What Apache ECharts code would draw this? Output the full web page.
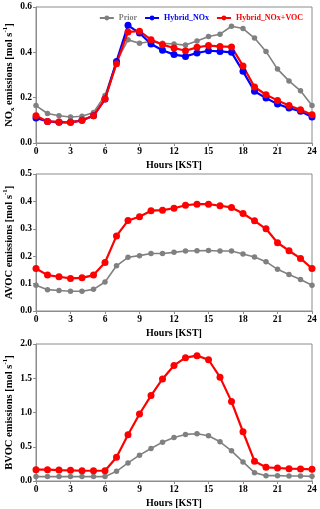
<!DOCTYPE html>
<html><head><meta charset="utf-8">
<script src="https://cdn.jsdelivr.net/npm/echarts@6/dist/echarts.min.js"></script>
<style>html,body{margin:0;padding:0;background:#fff}#c{width:320px;height:509px}</style>
</head><body><div id="c"></div>
<script>
var hours = [0,1,2,3,4,5,6,7,8,9,10,11,12,13,14,15,16,17,18,19,20,21,22,23,24];
var noxPrior = [0.165,0.13,0.12,0.115,0.118,0.135,0.21,0.36,0.455,0.44,0.448,0.44,0.437,0.432,0.45,0.47,0.48,0.515,0.505,0.463,0.404,0.326,0.274,0.23,0.165];
var noxHybNOx = [0.11,0.095,0.091,0.091,0.1,0.12,0.194,0.36,0.519,0.485,0.437,0.409,0.39,0.382,0.397,0.407,0.404,0.4,0.316,0.228,0.198,0.172,0.154,0.14,0.115];
var noxHybNOxVOC = [0.12,0.095,0.093,0.091,0.1,0.12,0.194,0.35,0.49,0.493,0.456,0.434,0.419,0.407,0.422,0.43,0.426,0.424,0.34,0.247,0.213,0.188,0.165,0.147,0.125];
var avocPrior = [0.094,0.078,0.075,0.072,0.072,0.079,0.106,0.165,0.196,0.202,0.21,0.21,0.214,0.219,0.22,0.221,0.219,0.219,0.208,0.197,0.18,0.152,0.133,0.115,0.094];
var avocHyb = [0.155,0.131,0.125,0.119,0.121,0.131,0.177,0.274,0.33,0.344,0.366,0.368,0.375,0.386,0.39,0.39,0.384,0.378,0.356,0.329,0.3,0.249,0.22,0.192,0.155];
var bvocPrior = [0.064,0.064,0.064,0.064,0.064,0.064,0.064,0.142,0.264,0.377,0.474,0.567,0.636,0.68,0.69,0.66,0.572,0.44,0.279,0.122,0.078,0.078,0.073,0.073,0.068];
var bvocHyb = [0.166,0.166,0.16,0.156,0.15,0.15,0.15,0.347,0.675,0.978,1.247,1.49,1.687,1.8,1.83,1.77,1.516,1.159,0.719,0.289,0.2,0.19,0.18,0.176,0.171];
var seriesNames = ['Prior','Hybrid_NOx','Hybrid_NOx+VOC'];
var xName = 'Hours [KST]';

var FF = '"Liberation Serif", "DejaVu Serif", serif';
var GRAY = '#808080', BLUE = '#0000ff', RED = '#ff0000', FRAME = '#8c8c8c';
function pairs(v){ return hours.map(function(h,i){ return [h, v[i]]; }); }

var grids = [
  {left:36, right:8, top:7, height:136},
  {left:36, right:8, top:174, height:137},
  {left:36, right:8, top:344, height:137}
];
grids.forEach(function(g){ g.show = true; g.borderColor = FRAME; g.borderWidth = 1; g.backgroundColor = 'transparent'; g.containLabel = false; g.outerBoundsMode = 'none'; });

function xAx(i){
  return {gridIndex:i, type:'value', min:0, max:24, interval:3,
    name:xName, nameLocation:'middle', nameGap:17, nameMoveOverlap:false,
    nameTextStyle:{fontFamily:FF, fontWeight:'bold', fontSize:10, color:'#000'},
    axisLine:{show:true, lineStyle:{color:FRAME}},
    axisTick:{show:true, length:3, lineStyle:{color:FRAME}},
    axisLabel:{fontFamily:FF, fontWeight:'bold', fontSize:9.5, color:'#000', margin:4},
    splitLine:{show:false}};
}
function yAx(i, max, interval, prefixRich){
  return {gridIndex:i, type:'value', min:0, max:max, interval:interval,
    name:prefixRich, nameLocation:'middle', nameGap:20, nameMoveOverlap:false,
    nameTextStyle:{fontFamily:FF, fontWeight:'bold', fontSize:10, color:'#000',
      rich:{
        a:{fontFamily:FF, fontWeight:'bold', fontSize:10.5, color:'#000', lineHeight:14, verticalAlign:'middle'},
        sub:{fontFamily:FF, fontWeight:'bold', fontSize:7, color:'#000', lineHeight:7, verticalAlign:'bottom'},
        sup:{fontFamily:FF, fontWeight:'bold', fontSize:7, color:'#000', lineHeight:7, verticalAlign:'top'}
      }},
    axisLine:{show:true, lineStyle:{color:FRAME}},
    axisTick:{show:true, length:3, lineStyle:{color:FRAME}},
    axisLabel:{fontFamily:FF, fontWeight:'bold', fontSize:9.5, color:'#000', margin:4,
      formatter:function(v){ return v.toFixed(1); }},
    splitLine:{show:false}};
}

function ser(name, data, gi, color, isPrior){
  return {name:name, type:'line', xAxisIndex:gi, yAxisIndex:gi, data:pairs(data),
    symbol:'circle', symbolSize:isPrior?5.5:7, showSymbol:true,
    lineStyle:{color:color, width:isPrior?1.6:2.2},
    itemStyle:{color:color},
    z:isPrior?2:3, animation:false};
}

var option = {
  animation:false,
  grid:grids,
  xAxis:[xAx(0), xAx(1), xAx(2)],
  yAxis:[
    yAx(0, 0.6, 0.2, '{a|NO}{sub|x}{a| emissions [mol s}{sup|-1}{a|]}'),
    yAx(1, 0.5, 0.1, '{a|AVOC emissions [mol s}{sup|-1}{a|]}'),
    yAx(2, 2.0, 0.5, '{a|BVOC emissions [mol s}{sup|-1}{a|]}')
  ],
  legend:{
    top:9, right:12, itemGap:7, itemWidth:14, itemHeight:6,
    data:seriesNames.map(function(n,i){ return {name:n, textStyle:{color:[GRAY,BLUE,RED][i]}}; }),
    textStyle:{fontFamily:FF, fontWeight:'bold', fontSize:8}
  },
  series:[
    ser(seriesNames[0], noxPrior, 0, GRAY, true),
    ser(seriesNames[1], noxHybNOx, 0, BLUE, false),
    ser(seriesNames[2], noxHybNOxVOC, 0, RED, false),
    ser(seriesNames[0], avocPrior, 1, GRAY, true),
    ser(seriesNames[2], avocHyb, 1, RED, false),
    ser(seriesNames[0], bvocPrior, 2, GRAY, true),
    ser(seriesNames[2], bvocHyb, 2, RED, false)
  ]
};
var chart = echarts.init(document.getElementById('c'), null, {renderer:'canvas'});
chart.setOption(option);
</script></body></html>
